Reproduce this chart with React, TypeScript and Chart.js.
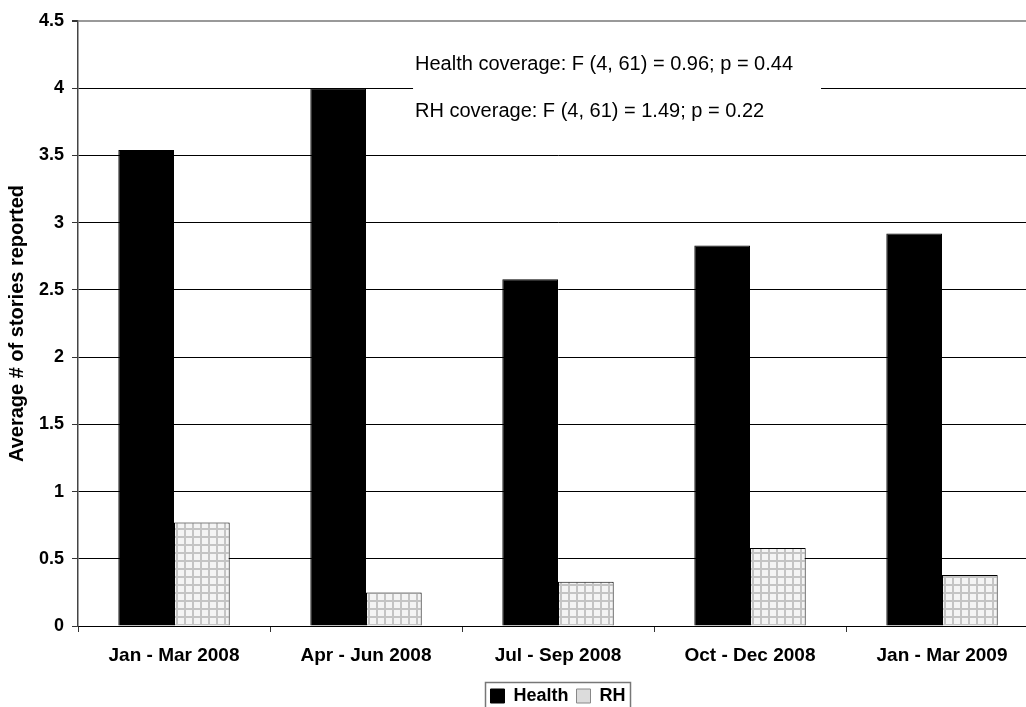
import React, { useEffect, useRef } from "react";
import { Chart, registerables } from "chart.js";

Chart.register(...registerables);

const categories = ["Jan - Mar 2008", "Apr - Jun 2008", "Jul - Sep 2008", "Oct - Dec 2008", "Jan - Mar 2009"];
const healthValues = [3.54, 4.0, 2.58, 2.83, 2.92];
const rhValues = [0.77, 0.25, 0.33, 0.58, 0.38];
const seriesNames = ["Health", "RH"];
const yMin = 0;
const yMax = 4.5;
const yStep = 0.5;
const yAxisTitle = "Average # of stories reported";
const annotationLines = [
  "Health coverage: F (4, 61) = 0.96; p = 0.44",
  "RH coverage: F (4, 61) = 1.49; p = 0.22",
];

const FONT = "'Liberation Sans', Arial, Helvetica, sans-serif";

function makeGridPattern(ctx: CanvasRenderingContext2D) {
  const c = document.createElement("canvas");
  c.width = 8;
  c.height = 8;
  const p = c.getContext("2d")!;
  p.fillStyle = "#f4f4f4";
  p.fillRect(0, 0, 8, 8);
  p.fillStyle = "#c4c4c4";
  p.fillRect(0, 0, 8, 2);
  p.fillRect(0, 0, 2, 8);
  return ctx.createPattern(c, "repeat")!;
}

const annotationPlugin = {
  id: "annotationBox",
  beforeDatasetsDraw(chart: any) {
    const { ctx, chartArea, scales } = chart;
    const y = scales.y;
    const w = chartArea.right - chartArea.left;
    const left = chartArea.left + w * 0.349;
    const right = chartArea.left + w * 0.774;
    const top = y.getPixelForValue(4.33);
    const bottom = y.getPixelForValue(3.62);
    ctx.save();
    ctx.fillStyle = "#ffffff";
    ctx.fillRect(left, top, right - left, bottom - top);
    ctx.fillStyle = "#000";
    ctx.font = `20px ${FONT}`;
    ctx.textBaseline = "middle";
    ctx.textAlign = "left";
    ctx.fillText(annotationLines[0], left + 2, y.getPixelForValue(4.18));
    ctx.fillText(annotationLines[1], left + 2, y.getPixelForValue(3.83));
    ctx.restore();
  },
};

const legendBorderPlugin = {
  id: "legendBorder",
  afterDraw(chart: any) {
    const lg = chart.legend;
    if (!lg || !lg.legendHitBoxes || !lg.legendHitBoxes.length) return;
    const boxes = lg.legendHitBoxes;
    let minX = Infinity, maxX = -Infinity, minY = Infinity, maxY = -Infinity;
    boxes.forEach((b: any) => {
      minX = Math.min(minX, b.left);
      maxX = Math.max(maxX, b.left + b.width);
      minY = Math.min(minY, b.top);
      maxY = Math.max(maxY, b.top + b.height);
    });
    const { ctx } = chart;
    ctx.save();
    ctx.strokeStyle = "#777";
    ctx.lineWidth = 1.5;
    ctx.strokeRect(Math.round(minX - 5) + 0.5, Math.round(minY - 5) + 0.5, Math.round(maxX - minX + 10), Math.round(maxY - minY + 12));
    ctx.restore();
  },
};

export default function App() {
  const ref = useRef<HTMLCanvasElement | null>(null);

  useEffect(() => {
    document.body.style.margin = "0";
    const canvas = ref.current!;
    const ctx = canvas.getContext("2d")!;
    const pattern = makeGridPattern(ctx);

    const chart = new Chart(ctx, {
      type: "bar",
      data: {
        labels: categories,
        datasets: [
          {
            label: seriesNames[0],
            data: healthValues,
            backgroundColor: "#000000",
            borderColor: "#000000",
            borderWidth: 1,
            categoryPercentage: 0.58,
            barPercentage: 1.0,
          },
          {
            label: seriesNames[1],
            data: rhValues,
            backgroundColor: pattern as any,
            borderColor: "#000000",
            borderWidth: 1,
            categoryPercentage: 0.58,
            barPercentage: 1.0,
          },
        ],
      },
      options: {
        responsive: false,
        animation: false,
        layout: { padding: { left: 0, right: 7, top: 21, bottom: 25 } },
        plugins: {
          tooltip: { enabled: false },
          legend: {
            position: "bottom",
            fullSize: false,
            labels: {
              color: "#000",
              font: { family: FONT, size: 18, weight: "bold" },
              boxWidth: 14,
              boxHeight: 14,
              padding: 8,
              generateLabels: () =>
                seriesNames.map((name, i) => ({
                  text: name,
                  fillStyle: i === 0 ? "#000" : "#dcdcdc",
                  strokeStyle: i === 0 ? "#000" : "#888",
                  lineWidth: 1,
                  hidden: false,
                  datasetIndex: i,
                })),
            },
          },
        },
        scales: {
          x: {
            offset: true,
            grid: { drawOnChartArea: false, offset: true, tickLength: 6, color: "#333" },
            border: { color: "#000", width: 1 },
            ticks: {
              color: "#000",
              font: { family: FONT, size: 19, weight: "bold" },
              padding: 12,
              maxRotation: 0,
            },
            afterFit: (s: any) => {
              s.height = 53;
            },
          },
          y: {
            min: yMin,
            max: yMax,
            ticks: {
              stepSize: yStep,
              color: "#000",
              font: { family: FONT, size: 18, weight: "bold" },
              padding: 8,
              callback: (v: any) => String(v),
            },
            grid: {
              color: (c: any) => (c.tick && c.tick.value === yMax ? "#999" : "#000"),
              lineWidth: (c: any) => (c.tick && c.tick.value === yMax ? 2 : 1),
              tickLength: 6,
              tickColor: "#333",
            },
            border: { color: "#444", width: 1.5 },
            title: {
              display: true,
              text: yAxisTitle,
              color: "#000",
              font: { family: FONT, size: 20, weight: "bold" },
              padding: { top: 5, bottom: 0 },
            },
            afterFit: (s: any) => {
              s.width = 78;
            },
          },
        },
      },
      plugins: [annotationPlugin, legendBorderPlugin],
    });
    return () => chart.destroy();
  }, []);

  return (
    <div style={{ width: 1026, height: 707, overflow: "hidden", position: "relative", background: "#fff" }}>
      <canvas ref={ref} width={1045} height={740} style={{ display: "block", width: 1045, height: 740 }} />
    </div>
  );
}
